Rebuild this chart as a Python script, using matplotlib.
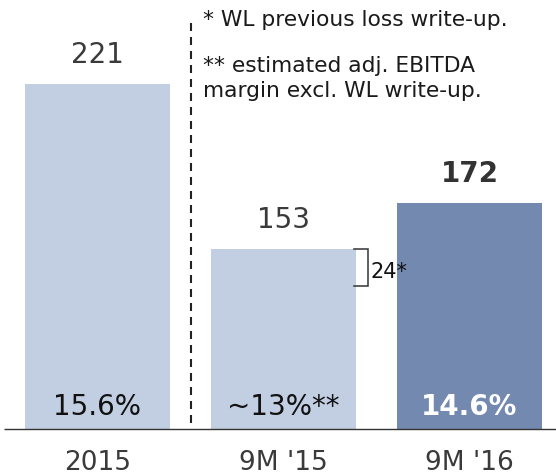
import matplotlib
matplotlib.use("Agg")
import matplotlib.pyplot as plt
from matplotlib import transforms

# ---- data ----
categories = ["2015", "9M '15", "9M '16"]
values = [221, 153, 172]
value_labels = ["221", "153", "172"]
margin_labels = ["15.6%", "~13%**", "14.6%"]
writeup_label = "24*"
footnote_1 = "* WL previous loss write-up."
footnote_2 = "** estimated adj. EBITDA"
footnote_3 = "margin excl. WL write-up."

# ---- style ----
W, H, DPI = 556, 476, 100
light = "#C2CEE1"
dark = "#7489B0"
bar_colors = [light, light, dark]
val_weights = ["normal", "normal", "bold"]
pct_colors = ["#111111", "#111111", "white"]
pct_weights = ["normal", "normal", "bold"]
text_gray = "#3a3a3a"
plt.rcParams["font.family"] = ["DejaVu Sans"]

fig = plt.figure(figsize=(W / DPI, H / DPI), dpi=DPI)
base_px = 429
ax = fig.add_axes([0, (H - base_px) / H, 1, base_px / H])
ax.set_axis_off()

px_per_unit = 2.43
y0 = 79
ax.set_ylim(y0, y0 + base_px / px_per_unit)
x_center0, spacing = 97.5, 186.0
ax.set_xlim(-x_center0 / spacing, (W - x_center0) / spacing)

xs = list(range(len(categories)))
bw = 145 / spacing
ax.bar(xs, values, width=bw, color=bar_colors, bottom=0, zorder=2)

def pt(px):
    return px * 72.0 / DPI

# value labels above bars
for x, v, lab, wgt in zip(xs, values, value_labels, val_weights):
    ax.annotate(lab, (x, v), xytext=(0, pt(21)), textcoords="offset points",
                ha="center", va="baseline", fontsize=20, fontweight=wgt,
                color="#333333" if wgt == "bold" else text_gray)

# margin labels inside bars
for x, lab, c, wgt in zip(xs, margin_labels, pct_colors, pct_weights):
    ax.annotate(lab, (x, 0), xycoords=("data", "axes fraction"),
                xytext=(0, pt(14)), textcoords="offset points",
                ha="center", va="baseline", fontsize=20, fontweight=wgt, color=c)

# category labels
for x, lab in zip(xs, categories):
    ax.annotate(lab, (x, 0), xycoords=("data", "axes fraction"),
                xytext=(0, -pt(41)), textcoords="offset points",
                ha="center", va="baseline", fontsize=19, color=text_gray,
                annotation_clip=False)

# baseline axis line
ax.plot([(3.5 - x_center0) / spacing, (W - x_center0) / spacing], [y0, y0],
        color="#333333", lw=1.0, clip_on=False, zorder=3,
        solid_capstyle="butt")

# dashed separator between 2015 and 9M figures
trans_xfig = transforms.blended_transform_factory(ax.transData, fig.transFigure)
sep_x = 0.5
ax.plot([sep_x, sep_x], [1 - 23 / H, 1 - 425 / H], transform=trans_xfig,
        color="#222222", lw=1.5, linestyle=(0, (3.84, 2.88)), clip_on=False)

# bracket for WL write-up on 9M '15 bar
bx0 = 1 + bw / 2 - 2 / spacing
bx1 = bx0 + 14 / spacing
btop = values[1]
bbot = values[1] - 37 / px_per_unit
ax.plot([bx0, bx1, bx1, bx0], [btop, btop, bbot, bbot], color="#333333",
        lw=1.1, solid_joinstyle="miter", zorder=4)
ax.annotate(writeup_label, (bx1, btop), xytext=(pt(3), -pt(29)),
            textcoords="offset points", ha="left", va="baseline",
            fontsize=15, color="#111111", zorder=5)

# footnotes
fx = 203 / W
for txt, by in [(footnote_1, 26), (footnote_2, 72), (footnote_3, 97)]:
    fig.text(fx, 1 - by / H, txt, ha="left", va="baseline", fontsize=15.7,
             color="#1a1a1a")

fig.savefig("out.png", dpi=DPI)
